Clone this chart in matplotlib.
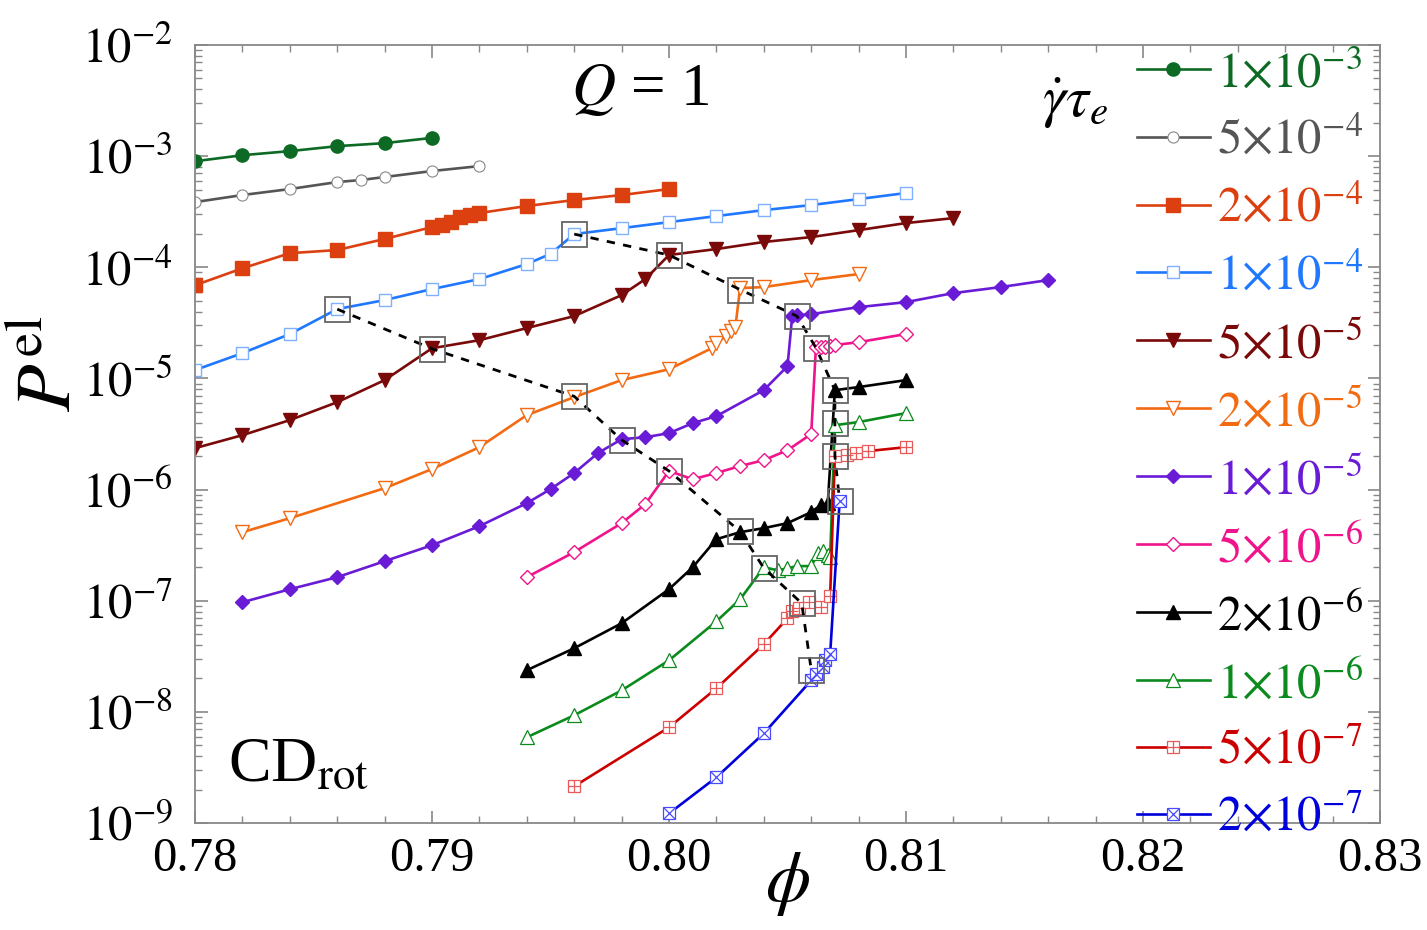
import matplotlib
matplotlib.use("Agg")
import matplotlib.pyplot as plt
from matplotlib.ticker import MultipleLocator, LogLocator, NullFormatter
from matplotlib.legend_handler import HandlerTuple

plt.rcParams['font.family'] = ['Liberation Serif', 'DejaVu Serif']
plt.rcParams['mathtext.fontset'] = 'stix'

# shear rates (legend) and data
rates = ["1", "5", "2", "1", "5", "2", "1", "5", "2", "1", "5", "2"]
exps = [-3, -4, -4, -4, -5, -5, -5, -6, -6, -6, -7, -7]

phi_1 = [0.780, 0.782, 0.784, 0.786, 0.788, 0.790]
p_1 = [9.0e-4, 1.02e-3, 1.11e-3, 1.23e-3, 1.31e-3, 1.46e-3]

phi_2 = [0.780, 0.782, 0.784, 0.786, 0.787, 0.788, 0.790, 0.792]
p_2 = [3.86e-4, 4.47e-4, 5.06e-4, 5.85e-4, 6.10e-4, 6.49e-4, 7.35e-4, 8.14e-4]

phi_3 = [0.780, 0.782, 0.784, 0.786, 0.788, 0.790, 0.7904, 0.7908, 0.7912,
         0.7916, 0.7920, 0.794, 0.796, 0.798, 0.800]
p_3 = [6.9e-5, 9.8e-5, 1.34e-4, 1.43e-4, 1.80e-4, 2.30e-4, 2.40e-4, 2.55e-4,
       2.83e-4, 2.95e-4, 3.08e-4, 3.56e-4, 4.03e-4, 4.47e-4, 5.06e-4]

phi_4 = [0.780, 0.782, 0.784, 0.786, 0.788, 0.790, 0.792, 0.794, 0.795, 0.796,
         0.798, 0.800, 0.802, 0.804, 0.806, 0.808, 0.810]
p_4 = [1.19e-5, 1.69e-5, 2.51e-5, 4.21e-5, 5.07e-5, 6.37e-5, 7.83e-5, 1.07e-4,
       1.32e-4, 1.99e-4, 2.25e-4, 2.55e-4, 2.89e-4, 3.27e-4, 3.63e-4, 4.11e-4, 4.66e-4]

phi_5 = [0.780, 0.782, 0.784, 0.786, 0.788, 0.790, 0.792, 0.794, 0.796, 0.798,
         0.799, 0.800, 0.802, 0.804, 0.806, 0.808, 0.810, 0.812]
p_5 = [2.36e-6, 3.09e-6, 4.22e-6, 6.12e-6, 9.66e-6, 1.87e-5, 2.21e-5, 2.84e-5,
       3.64e-5, 5.62e-5, 7.83e-5, 1.29e-4, 1.46e-4, 1.69e-4, 1.87e-4, 2.16e-4,
       2.50e-4, 2.77e-4]

phi_6 = [0.782, 0.784, 0.788, 0.790, 0.792, 0.794, 0.796, 0.798, 0.800, 0.8018,
         0.8020, 0.8024, 0.8026, 0.8028, 0.8030, 0.804, 0.806, 0.808]
p_6 = [4.14e-7, 5.53e-7, 1.03e-6, 1.53e-6, 2.41e-6, 4.68e-6, 6.79e-6, 9.66e-6,
       1.21e-5, 1.87e-5, 2.08e-5, 2.40e-5, 2.67e-5, 2.90e-5, 6.50e-5, 6.64e-5,
       7.67e-5, 8.69e-5]

phi_7 = [0.782, 0.784, 0.786, 0.788, 0.790, 0.792, 0.794, 0.795, 0.796, 0.797,
         0.798, 0.799, 0.800, 0.801, 0.802, 0.804, 0.805, 0.8052, 0.8054, 0.806,
         0.808, 0.810, 0.812, 0.814, 0.816]
p_7 = [9.7e-8, 1.27e-7, 1.63e-7, 2.27e-7, 3.16e-7, 4.69e-7, 7.55e-7, 1.01e-6,
       1.41e-6, 2.13e-6, 2.84e-6, 2.96e-6, 3.22e-6, 3.96e-6, 4.58e-6, 7.85e-6,
       1.29e-5, 3.64e-5, 3.70e-5, 3.79e-5, 4.38e-5, 4.86e-5, 5.86e-5, 6.64e-5,
       7.67e-5]

phi_8 = [0.794, 0.796, 0.798, 0.799, 0.800, 0.801, 0.802, 0.803, 0.804, 0.805,
         0.806, 0.8062, 0.8064, 0.8066, 0.8068, 0.8070, 0.808, 0.810]
p_8 = [1.63e-7, 2.74e-7, 4.99e-7, 7.40e-7, 1.47e-6, 1.24e-6, 1.41e-6, 1.63e-6,
       1.84e-6, 2.26e-6, 3.16e-6, 1.91e-5, 1.91e-5, 1.93e-5, 1.96e-5, 2.00e-5,
       2.12e-5, 2.51e-5]

phi_9 = [0.794, 0.796, 0.798, 0.800, 0.801, 0.802, 0.803, 0.804, 0.805, 0.806,
         0.8064, 0.8067, 0.8070, 0.808, 0.810]
p_9 = [2.37e-8, 3.74e-8, 6.27e-8, 1.27e-7, 2.00e-7, 3.58e-7, 4.14e-7, 4.50e-7,
       4.99e-7, 6.27e-7, 7.25e-7, 7.55e-7, 7.85e-6, 8.36e-6, 9.66e-6]

phi_10 = [0.794, 0.796, 0.798, 0.800, 0.802, 0.803, 0.804, 0.8046, 0.805, 0.8054,
          0.806, 0.8063, 0.8065, 0.8067, 0.8068, 0.8070, 0.808, 0.810]
p_10 = [5.91e-9, 9.33e-9, 1.56e-8, 2.91e-8, 6.53e-8, 1.03e-7, 2.00e-7, 1.88e-7,
        1.96e-7, 2.05e-7, 2.05e-7, 2.68e-7, 2.79e-7, 2.57e-7, 2.47e-7, 3.80e-6,
        4.05e-6, 4.88e-6]

phi_11 = [0.796, 0.800, 0.802, 0.804, 0.8050, 0.8052, 0.8055, 0.8059, 0.8064,
          0.8068, 0.8070, 0.8075, 0.8079, 0.8084, 0.810]
p_11 = [2.14e-9, 7.26e-9, 1.63e-8, 4.06e-8, 6.95e-8, 8.03e-8, 8.55e-8, 9.68e-8,
        8.73e-8, 1.10e-7, 2.00e-6, 2.04e-6, 2.13e-6, 2.22e-6, 2.41e-6]

phi_12 = [0.800, 0.802, 0.804, 0.806, 0.8062, 0.8065, 0.8066, 0.8068, 0.8072]
p_12 = [1.22e-9, 2.58e-9, 6.41e-9, 1.92e-8, 2.18e-8, 2.52e-8, 2.91e-8, 3.30e-8, 7.87e-7]

# transition points (boxes + dashed guide lines)
upper_phi = [0.796, 0.800, 0.803, 0.8054, 0.8062, 0.8070, 0.8070, 0.8070, 0.8072]
upper_p = [1.99e-4, 1.29e-4, 6.3e-5, 3.64e-5, 1.89e-5, 7.85e-6, 3.97e-6, 2.0e-6, 7.9e-7]
lower_phi = [0.786, 0.790, 0.796, 0.798, 0.800, 0.803, 0.804, 0.8056, 0.806]
lower_p = [4.2e-5, 1.85e-5, 6.9e-6, 2.8e-6, 1.47e-6, 4.2e-7, 1.97e-7, 9.5e-8, 2.4e-8]

colors = ['#0d6a24', '#555555', '#dc4010', '#1f78ff', '#7a0a0a', '#f26a12',
          '#6a1bd6', '#f0148c', '#000000', '#0b8a1e', '#cc0000', '#0000dd']

fig = plt.figure(figsize=(14.27, 9.30), dpi=100)
ax = fig.add_axes([0.1367, 0.115, 0.8303, 0.8366])

lw = 1.9
handles = []

def draw(phi, p, color, marker, ms, filled=True, mec=None, mew=1.0):
    kw = dict(color=color, lw=lw, marker=marker, ms=ms, mew=mew)
    if filled:
        kw.update(mfc=color, mec=mec or color)
    else:
        kw.update(mfc='white', mec=mec or color)
    line, = ax.plot(phi, p, **kw)
    return line

handles.append(draw(phi_1, p_1, colors[0], 'o', 9.5))
handles.append(draw(phi_2, p_2, colors[1], 'o', 8, filled=False, mec='#888888', mew=0.8))
handles.append(draw(phi_3, p_3, colors[2], 's', 9.5))
handles.append(draw(phi_4, p_4, colors[3], 's', 8, filled=False, mec='#7fb0ff', mew=1.0))
handles.append(draw(phi_5, p_5, colors[4], 'v', 10))
handles.append(draw(phi_6, p_6, colors[5], 'v', 10, filled=False, mew=1.0))
handles.append(draw(phi_7, p_7, colors[6], 'D', 7.5))
handles.append(draw(phi_8, p_8, colors[7], 'D', 7.5, filled=False, mew=1.0))
handles.append(draw(phi_9, p_9, colors[8], '^', 10))
handles.append(draw(phi_10, p_10, colors[9], '^', 10, filled=False, mew=0.9))

# box-plus and box-times markers (square + cross overlay)
l11 = draw(phi_11, p_11, colors[10], 's', 8.5, filled=False, mec='#e85a5a', mew=0.9)
l11b, = ax.plot(phi_11, p_11, ls='none', marker='+', ms=8.5, mew=0.9, color='#e85a5a')
handles.append((l11, l11b))
l12 = draw(phi_12, p_12, colors[11], 's', 8.5, filled=False, mec='#4a4aff', mew=0.9)
l12b, = ax.plot(phi_12, p_12, ls='none', marker='x', ms=8.5, mew=0.9, color='#4a4aff')
handles.append((l12, l12b))

ax.plot(upper_phi, upper_p, ls=(0, (3, 3)), color='black', lw=2, zorder=5)
ax.plot(lower_phi, lower_p, ls=(0, (3, 3)), color='black', lw=2, zorder=5)
ax.plot(upper_phi + lower_phi, upper_p + lower_p, ls='none', marker='s', ms=18,
        mfc='none', mec='#666666', mew=1.3, zorder=6)

ax.set_yscale('log')
ax.set_xlim(0.78, 0.83)
ax.set_ylim(1e-9, 1e-2)

ax.set_xticks([0.78, 0.79, 0.80, 0.81, 0.82, 0.83])
ax.set_xticklabels(['0.78', '0.79', '0.80', '0.81', '0.82', '0.83'])
ax.xaxis.set_minor_locator(MultipleLocator(0.002))
yt = [10.0 ** k for k in range(-9, -1)]
ax.set_yticks(yt)
ax.set_yticklabels([r'$10^{%d}$' % k for k in range(-9, -1)])
ax.yaxis.set_minor_locator(LogLocator(base=10, subs=range(2, 10), numticks=20))
ax.yaxis.set_minor_formatter(NullFormatter())

ax.tick_params(which='both', direction='in', top=True, right=True, color='#888888',
               labelsize=35)
ax.tick_params(which='major', length=9, width=1.2)
ax.tick_params(which='minor', length=5, width=1.0)
ax.tick_params(axis='y', pad=16)
ax.tick_params(axis='x', pad=10)
for s in ax.spines.values():
    s.set_color('#888888')
    s.set_linewidth(1.3)

ax.set_xlabel(r'$\phi$', fontsize=52)
ax.xaxis.set_label_coords(0.5, -0.035)
ax.set_ylabel(r'$P^{\mathrm{el}}$', fontsize=56)
ax.yaxis.set_label_coords(-0.09, 0.59)

ax.text(0.3755, 0.942, r'$Q$ = 1', transform=ax.transAxes, fontsize=44,
        ha='center', va='center')
ax.text(0.7426, 0.925, r'$\dot{\gamma}\tau_e$', transform=ax.transAxes, fontsize=42,
        ha='center', va='center')
ax.text(0.028, 0.055, r'CD$_{\mathrm{rot}}$', transform=ax.transAxes, fontsize=46,
        ha='left', va='baseline')

labels = [r'$%s{\times}10^{%d}$' % (r, e) for r, e in zip(rates, exps)]
leg = ax.legend(handles, labels, loc='upper left', bbox_to_anchor=(0.795, 0.993),
                frameon=False, fontsize=35, handlelength=1.5, handletextpad=0.15,
                labelspacing=0.44, borderpad=0.0, borderaxespad=0.0,
                handler_map={tuple: HandlerTuple(ndivide=1)})
for t, c in zip(leg.get_texts(), colors):
    t.set_color(c)

fig.savefig('out.png', dpi=100)
